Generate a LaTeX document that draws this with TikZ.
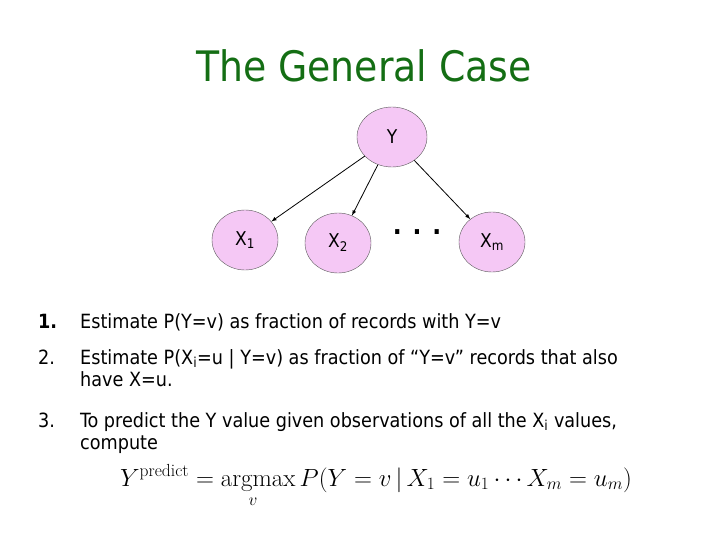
\documentclass[tikz,border=0pt]{standalone}
\usepackage{fontspec}
\setsansfont{DejaVu Sans Condensed}
\usetikzlibrary{positioning,shapes.geometric}
\definecolor{titlegreen}{RGB}{20,110,20}
\definecolor{nodepink}{RGB}{245,200,245}
\tikzset{var/.style={ellipse,draw=gray!70!black,fill=nodepink,minimum width=66pt,minimum height=60pt,inner sep=0pt,font=\sffamily\fontsize{19}{22}\selectfont},
         item/.style={anchor=base west,font=\sffamily\fontsize{19.6}{24}\selectfont,inner sep=0pt}}
\begin{document}
\begin{tikzpicture}[x=1pt,y=-1pt]
        \useasboundingbox (0,0) rectangle (720,540);
        \node[anchor=base,text=titlegreen,font=\sffamily\fontsize{42}{46}\selectfont] (title) at (364,82) {The General Case};
        \node[var,minimum width=70pt] at (392,137) (Y) {Y};
        \node[var] at (245,240) (X1) {X\textsubscript{1}};
        \node[var] at (338,243) (X2) {X\textsubscript{2}};
        \node[var] at (492,242) (Xm) {X\textsubscript{m}};
        \node[font=\sffamily\bfseries\fontsize{26}{26}\selectfont] at (417,232) (dots) {. . .};

        \draw[-latex,thick] (Y) -- (X1);
        \draw[-latex,thick] (Y) -- (X2);
        \draw[-latex,thick] (Y) -- (Xm);

        \node[item] at (38,328) (n1) {\textbf{1.}};
        \node[item] at (80,328) (t1) {Estimate P(Y=v) as fraction of records with Y=v};
        \node[item] at (38,364) (n2) {2.};
        \node[item] at (80,364) (t2) {Estimate P(X\textsubscript{i}=u | Y=v) as fraction of “Y=v” records that also};
        \node[item] at (80,386) (t2b) {have X=u.};
        \node[item] at (38,427) (n3) {3.};
        \node[item] at (80,427) (t3) {To predict the Y value given observations of all the X\textsubscript{i} values,};
        \node[item] at (80,449) (t3b) {compute};
        \node[anchor=base west,inner sep=0pt,font=\fontsize{25}{28}\selectfont] at (120,486) (f)
          {$Y^{\mathrm{predict}} = \mathrm{argmax}\, P(Y=v \,|\, X_1=u_1 \cdots X_m=u_m)$};
        \node[font=\fontsize{16}{16}\selectfont] at (253,502) (fv) {$v$};
      \end{tikzpicture}
\end{document}
